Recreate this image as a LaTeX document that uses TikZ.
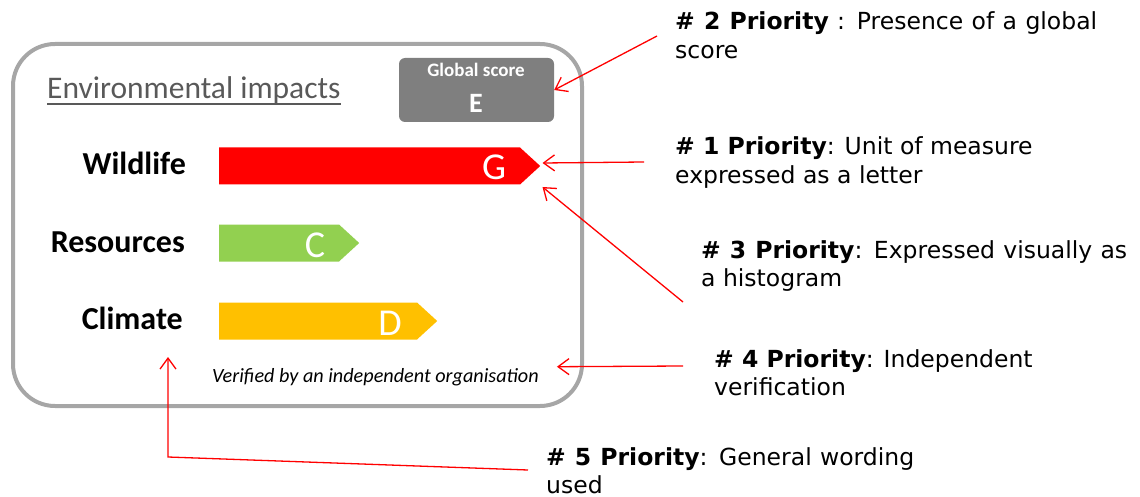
\documentclass[tikz,border=0pt]{standalone}
\usepackage{fontspec}
\setmainfont{Carlito}
\newfontfamily\verd{DejaVu Sans}
\usetikzlibrary{shapes.symbols,arrows.meta,calc}

\definecolor{framegray}{HTML}{A6A6A6}
\definecolor{scoregray}{HTML}{7F7F7F}
\definecolor{titlegray}{HTML}{595959}
\definecolor{barred}{HTML}{FF0000}
\definecolor{bargreen}{HTML}{92D050}
\definecolor{baryellow}{HTML}{FFC000}

\newcommand{\fs}[1]{\fontsize{#1}{#1}\selectfont}
\newcommand{\prio}[1]{\textbf{\# #1 Priority}}
\newcommand{\impact}{\node[impact]}
\newcommand{\grade}{\node[grade]}

\tikzset{
  frame/.style={draw=framegray, line width=4pt, rounded corners=42pt},
  bar/.style={signal, signal to=east, signal pointer angle=85, draw=none,
    minimum height=37pt, inner sep=0pt, anchor=west},
  grade/.style={text=white, font=\fs{38}, inner sep=0pt, anchor=base},
  impact/.style={font=\fs{32}\bfseries, inner sep=0pt, anchor=base east},
  % base west of these is the baseline of the last line
  prionote/.style={font=\verd\fontsize{23.5}{28.5}\selectfont, align=left,
    inner sep=0pt, anchor=base west},
  pointer/.style={draw=red, line width=1.3pt, -{Straight Barb[length=11pt,width=16pt]}}
}

\begin{document}
\begin{tikzpicture}[x=1pt, y=-1pt]
  \useasboundingbox (0,0) rectangle (1140,497);

  % the label
  \draw[frame] (13,44) rectangle (582,406);
  \node[font=\fs{31.5}, text=titlegray, inner sep=0pt, anchor=base west]
    (title) at (47,99) {Environmental impacts};
  \draw[titlegray, line width=2pt]
    ($(title.base west)+(0,5)$) -- ($(title.base east)+(0,5)$);

  \node[fill=scoregray, rounded corners=6pt, minimum width=155pt,
    minimum height=64pt, inner sep=0pt] (gscore) at (476.5,90) {};
  \node[text=white, font=\fs{19}\bfseries, inner sep=0pt, anchor=base]
    (gtitle) at (476,77) {Global score};
  \node[text=white, font=\fs{28}\bfseries, inner sep=0pt, anchor=base]
    (gletter) at (476,113) {E};

  \impact (wild) at (186,175) {Wildlife};
  \impact (res) at (185,252) {Resources};
  \impact (clim) at (183,329) {Climate};

  \node[bar, fill=barred, minimum width=321pt] (wbar) at (219,166) {};
  \node[bar, fill=bargreen, minimum width=140pt] (rbar) at (219,243) {};
  \node[bar, fill=baryellow, minimum width=218pt] (cbar) at (219,321) {};
  \grade (wgrade) at (494,180) {G};
  \grade (rgrade) at (315,257) {C};
  \grade (cgrade) at (390,335) {D};

  \node[font=\fs{20.2}\itshape, inner sep=0pt, anchor=base west]
    (verified) at (212,382) {Verified by an independent organisation};

  % the notes
  \node[prionote] (p2) at (675,58.5)
    {\makebox[422pt][s]{\prio{2} : Presence of a global}\\score};
  \node[prionote] (p1) at (675,183.5) {\prio{1}: Unit of measure\\expressed as a letter};
  \node[prionote] (p3) at (701,286.5)
    {\makebox[426pt][s]{\prio{3}: Expressed visually as}\\a histogram};
  \node[prionote] (p4) at (714,395.5) {\prio{4}: Independent\\verification};
  \node[prionote] (p5) at (546,493.5)
    {\makebox[368pt][s]{\prio{5}: General wording}\\used};

  \coordinate (from2) at (657,36);
  \coordinate (from1) at (644,162);
  \coordinate (from3) at (683,302);
  \coordinate (from4) at (683,366);
  \coordinate (from5) at (528,470);
  \coordinate (bend5) at (168,457);
  \coordinate (wordtip) at (168,357);

  \draw[pointer] (from2) -- (gscore.east);
  \draw[pointer] (from1) -- ([xshift=2pt,yshift=3pt]wbar.east);
  \draw[pointer] (from3) -- ([xshift=2pt,yshift=-21pt]wbar.east);
  \draw[pointer] (from4) -- ([xshift=18pt,yshift=10pt]verified.east);
  \draw[pointer] (from5) -- (bend5) -- (wordtip);
\end{tikzpicture}
\end{document}
